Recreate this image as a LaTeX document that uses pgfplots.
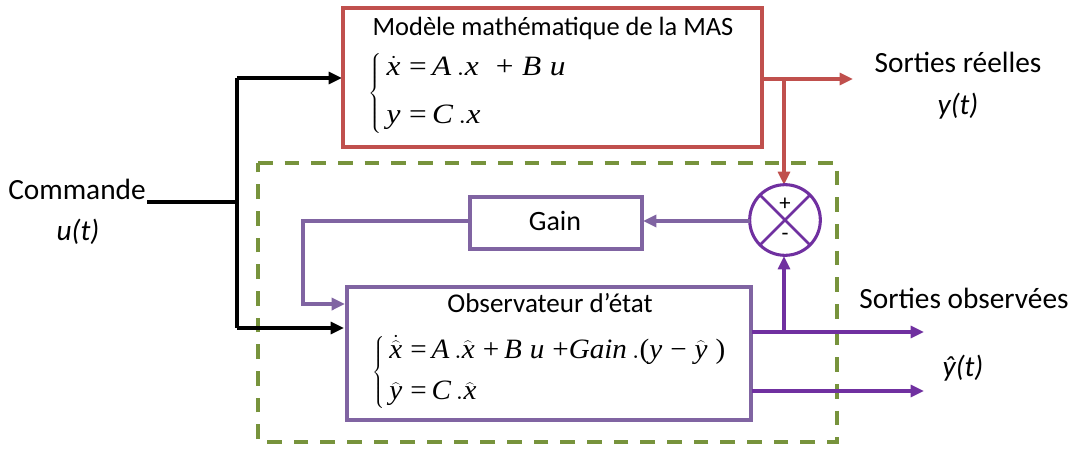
\documentclass[border=0pt]{standalone}
\usepackage{pgfplots}
\pgfplotsset{compat=1.18}
\usetikzlibrary{arrows.meta}
\usepackage{fontspec}
\setmainfont{Carlito}
\newfontfamily\tms{Liberation Serif}
\definecolor{cred}{HTML}{C0504D}
\definecolor{cpur}{HTML}{8064A2}
\definecolor{cvio}{HTML}{7030A0}
\definecolor{cgrn}{HTML}{77933C}
\newcommand{\mi}[1]{\hbox{\tms\itshape #1}}
\newcommand{\mr}[1]{\hbox{\tms #1}}
\tikzset{arr/.style={-{Triangle[length=10pt,width=9pt]}}}
\begin{document}
\begin{tikzpicture}
\begin{axis}[hide axis, scale only axis, width=804.75pt, height=337.5pt,
  xmin=0, xmax=1073, ymin=0, ymax=450, y dir=reverse, clip=false]
% green dashed box
\addplot[cgrn, line width=2.3pt, dash pattern=on 11pt off 9pt] coordinates {(258,163)(837,163)(837,442)(258,442)} -- cycle;
% black input lines
\addplot[black, line width=2.3pt] coordinates {(147,202)(237,202)};
\addplot[black, line width=2.3pt] coordinates {(237,78)(237,328)};
\addplot[black, line width=2.3pt, arr] coordinates {(237,78)(342,78)};
\addplot[black, line width=2.3pt, arr] coordinates {(237,328)(344,328)};
% red box
\addplot[cred, line width=3.2pt] coordinates {(343,8)(762,8)(762,147)(343,147)} -- cycle;
% red outputs
\addplot[cred, line width=2.3pt, arr] coordinates {(763,79)(853,79)};
\addplot[cred, line width=2.3pt, arr] coordinates {(784,79)(784,185)};
% circle
\draw[cvio, line width=2.3pt] (axis cs:785,220) circle[radius=26.5pt];
\draw[cvio, line width=2pt] (axis cs:785,220) ++(45:26.5pt) -- ++(225:53pt);
\draw[cvio, line width=2pt] (axis cs:785,220) ++(135:26.5pt) -- ++(315:53pt);
\node[font=\fontsize{17}{20}\selectfont] at (axis cs:785,204) {+};
\node[font=\fontsize{17}{20}\selectfont] at (axis cs:785,237) {-};
% circle -> gain
\addplot[cpur, line width=2.6pt, arr] coordinates {(750,221)(643,221)};
% gain box
\addplot[cpur, line width=3pt] coordinates {(470,197)(642,197)(642,249)(470,249)} -- cycle;
\node[font=\fontsize{21}{25}\selectfont] at (axis cs:555,221) {Gain};
% feedback to observer
\addplot[cpur, line width=2.6pt, arr] coordinates {(470,221)(303,221)(303,304)(345,304)};
% observer box
\addplot[cpur, line width=3.2pt] coordinates {(347,287)(751,287)(751,420)(347,420)} -- cycle;
% outputs
\addplot[cvio, line width=2.3pt, arr] coordinates {(752,332)(924,332)};
\addplot[cvio, line width=2.3pt, arr] coordinates {(752,391)(924,391)};
\addplot[cvio, line width=2.3pt, arr] coordinates {(784,332)(784,256)};
% texts
\node[font=\fontsize{19.8}{23}\selectfont] at (axis cs:553,28) {Modèle mathématique de la MAS};
\node[font=\fontsize{21}{25}\selectfont, anchor=west, inner sep=0pt] at (axis cs:368,93)
 {\scalebox{1.12}[1]{$\left\{\begin{array}{@{}l@{}}
  \,\dot{\mi{x}}\;\mr{=}\,\mi{A}\,.\mi{x}\;\;\mr{+}\;\mi{B}\;\mi{u}\\[11pt]
  \,\mi{y}\;\mr{=}\,\mi{C}\,.\mi{x}
  \end{array}\right.$}};
\node[font=\fontsize{20.3}{24}\selectfont] at (axis cs:550,303) {Observateur d’état};
\node[font=\fontsize{21}{25}\selectfont, anchor=west, inner sep=0pt] at (axis cs:372,372)
 {\scalebox{1.04}[1]{$\left\{\begin{array}{@{}l@{}}
  \,\dot{\widehat{\mi{x}}}\;\mr{=}\,\mi{A}\,.\widehat{\mi{x}}\;\mr{+}\,\mi{B}\;\mi{u}\;\mr{+}\mi{Gain}\,.\mr{(}\mi{y}\;\mr{−}\;\widehat{\mi{y}}\;\mr{)}\\[6pt]
  \,\widehat{\mi{y}}\;\mr{=}\,\mi{C}\,.\widehat{\mi{x}}
  \end{array}\right.$}};
\node[font=\fontsize{22}{26}\selectfont] at (axis cs:77,189) {Commande};
\node[font=\fontsize{22}{26}\selectfont\itshape] at (axis cs:78,232) {u(t)};
\node[font=\fontsize{22}{26}\selectfont] at (axis cs:958,62) {Sorties réelles};
\node[font=\fontsize{22}{26}\selectfont\itshape] at (axis cs:958,106) {y(t)};
\node[font=\fontsize{22}{26}\selectfont] at (axis cs:964,298) {Sorties observées};
\node[font=\fontsize{22}{26}\selectfont\itshape] at (axis cs:963,368) {ŷ(t)};
\end{axis}
\pgfresetboundingbox
\path (current axis.south west) rectangle (current axis.north east);
\end{tikzpicture}
\end{document}
